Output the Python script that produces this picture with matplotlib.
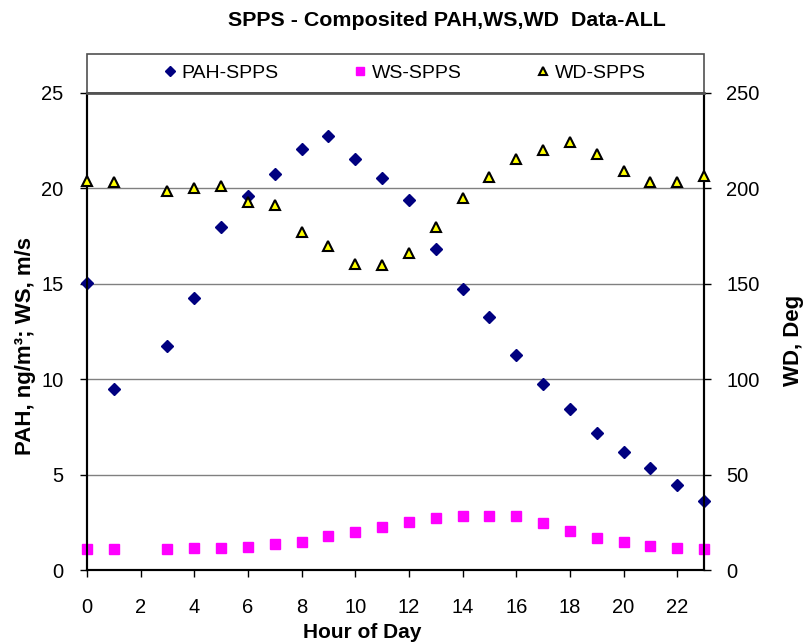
import matplotlib
matplotlib.use('Agg')
import matplotlib.pyplot as plt
from matplotlib.patches import Rectangle

plt.rcParams['font.family'] = ['Liberation Sans', 'DejaVu Sans']

# hour 2 has no data in any series
hours = [0, 1, 3, 4, 5, 6, 7, 8, 9, 10, 11, 12, 13, 14, 15, 16, 17, 18, 19, 20, 21, 22, 23]
pah = [15.03, 9.47, 11.72, 14.24, 17.99, 19.62, 20.74, 22.08, 22.75, 21.54, 20.53, 19.39,
       16.82, 14.73, 13.28, 11.28, 9.75, 8.42, 7.18, 6.20, 5.33, 4.47, 3.60]
ws = [1.12, 1.12, 1.12, 1.13, 1.13, 1.22, 1.35, 1.48, 1.80, 1.99, 2.27, 2.52,
      2.73, 2.83, 2.83, 2.83, 2.45, 2.06, 1.68, 1.45, 1.27, 1.17, 1.12]
wd = [204.0, 203.2, 198.8, 200.0, 201.1, 193.0, 191.1, 177.1, 169.8, 160.5, 160.0, 166.3,
      179.8, 195.0, 206.1, 215.4, 220.1, 224.3, 218.0, 209.0, 203.2, 203.4, 206.7]

x_ticks = list(range(0, 23, 2))
left_ticks = [0, 5, 10, 15, 20, 25]
right_ticks = [0, 50, 100, 150, 200, 250]

fig = plt.figure(figsize=(8.1, 6.44), dpi=100)
ax = fig.add_axes([87/810, 1-570/644, 617/810, 477/644])
ax2 = ax.twinx()

l1, = ax.plot(hours, pah, 'D', color='#000080', ms=6.3, mec='#000080', clip_on=False, zorder=3, label='PAH-SPPS')
l2, = ax.plot(hours, ws, 's', color='#FF00FF', ms=6.8, mec='#FF00FF', clip_on=False, zorder=3, label='WS-SPPS')
l3, = ax2.plot(hours, wd, '^', color='#FFFF00', ms=6.8, mec='black', mew=1.5, clip_on=False, zorder=3, label='WD-SPPS')

ax.set_xlim(0, 23)
ax.set_ylim(0, 25)
ax2.set_ylim(0, 250)
ax.set_xticks(x_ticks)
ax.set_yticks(left_ticks)
ax2.set_yticks(right_ticks)

ax.yaxis.grid(True, color='#808080', lw=1)
ax.set_axisbelow(True)

ax.tick_params(axis='x', direction='out', length=5, width=1, pad=15, labelsize=14.5)
ax.tick_params(axis='y', direction='out', length=5, width=1, pad=12, labelsize=14.5)
ax2.tick_params(axis='y', direction='out', length=5, width=1, pad=11, labelsize=14.5)

for a in (ax, ax2):
    for s in ('left', 'right', 'bottom'):
        a.spines[s].set_color('black')
        a.spines[s].set_linewidth(1.5)
    a.spines['top'].set_color('#606060')
    a.spines['top'].set_linewidth(1.8)

ax.set_xlabel('Hour of Day', fontsize=15, fontweight='bold')
ax.xaxis.set_label_coords(0.446, -0.111)
ax.set_ylabel('PAH, ng/m³; WS, m/s', fontsize=16, fontweight='bold')
ax.yaxis.set_label_coords(-0.083, 0.47)
ax2.set_ylabel('WD, Deg', fontsize=16, fontweight='bold', rotation=90)
ax2.yaxis.set_label_coords(1.128, 0.482)

fig.text(447/810, 1-20/644, 'SPPS - Composited PAH,WS,WD  Data-ALL',
         ha='center', va='center', fontsize=15.4, fontweight='bold')

# legend box sits right on top of the plot area
fig.patches.append(Rectangle((87/810, 1-93/644), 617/810, 39/644, transform=fig.transFigure,
                             fill=False, edgecolor='#505050', lw=1.2))
fig.legend(handles=[l1, l2, l3], loc='center', bbox_to_anchor=(405/810, 1-73/644),
           ncol=3, frameon=False, fontsize=14, handlelength=0.6, handletextpad=0.3,
           columnspacing=3.9, borderpad=0, markerscale=0.85)

fig.savefig('out.png', dpi=100)
